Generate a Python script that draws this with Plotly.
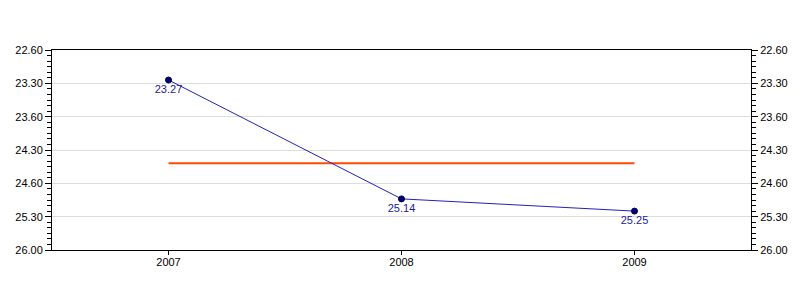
import plotly.graph_objects as go

years = ["2007", "2008", "2009"]
times = [23.27, 25.14, 25.25]          # mm.ss format
tick_labels = ["22.60", "23.30", "23.60", "24.30", "24.60", "25.30", "26.00"]
tick_minutes = [23.0, 23.5, 24.0, 24.5, 25.0, 25.5, 26.0]

def to_min(v):
    m = int(v)
    s = round((v - m) * 100)
    return m + s / 60.0

yvals = [to_min(v) for v in times]
avg = sum(yvals) / len(yvals)
xidx = list(range(len(years)))

font = "Liberation Sans, Arial, sans-serif"

fig = go.Figure()
fig.add_trace(go.Scatter(
    x=[xidx[0], xidx[-1]], y=[avg, avg], mode="lines",
    line=dict(color="#FF4A00", width=2), hoverinfo="skip", showlegend=False))
fig.add_trace(go.Scatter(
    x=xidx, y=yvals, mode="lines+markers+text",
    text=["%.2f" % v for v in times], textposition="bottom center",
    textfont=dict(family=font, size=11, color="#1a1aa0"),
    line=dict(color="#2222bb", width=1),
    marker=dict(size=6, color="#000080", line=dict(color="#000033", width=1)),
    showlegend=False))
fig.add_trace(go.Scatter(x=xidx, y=yvals, yaxis="y2", mode="none",
                         hoverinfo="skip", showlegend=False))

yax = dict(range=[26.0, 23.0], tickmode="array", tickvals=tick_minutes,
           ticktext=tick_labels, ticks="outside", ticklen=6, tickcolor="black",
           showline=True, linecolor="black", linewidth=1,
           showgrid=True, gridcolor="#dddddd", gridwidth=1, zeroline=False,
           tickfont=dict(family=font, size=11, color="#000000"),
           minor=dict(ticks="outside", ticklen=4, tickcolor="black",
                      dtick=5/60, tick0=23.0, showgrid=False))

fig.update_layout(
    width=800, height=300,
    margin=dict(l=52, r=49, t=50, b=50),
    paper_bgcolor="white", plot_bgcolor="white",
    xaxis=dict(range=[-0.5, 2.5], tickmode="array", tickvals=xidx, ticktext=years,
               ticks="outside", ticklen=4, tickcolor="black",
               ticklabelstandoff=-2,
               showline=True, linecolor="black", linewidth=1, mirror=True,
               showgrid=False, zeroline=False,
               tickfont=dict(family=font, size=11, color="#000000")),
    yaxis=yax,
    yaxis2=dict(yax, overlaying="y", side="right", showgrid=False),
)

fig.write_html("out.html")
